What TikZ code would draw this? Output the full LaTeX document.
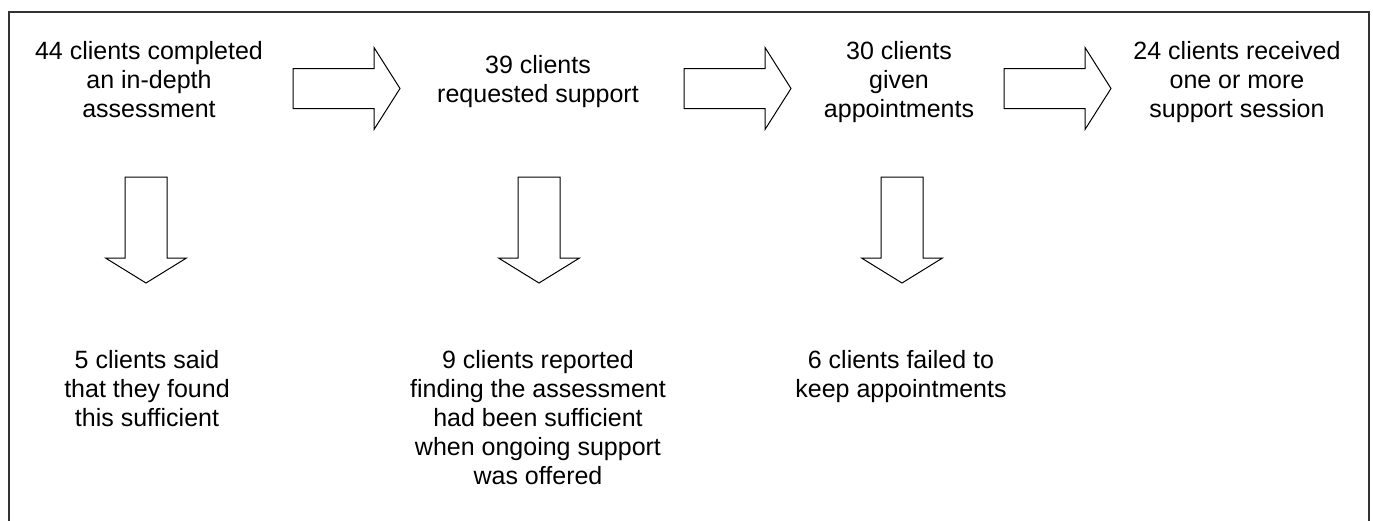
\documentclass[tikz,border=0pt]{standalone}
\usepackage{fontspec}
\setmainfont{Liberation Sans}
\begin{document}
\begin{tikzpicture}[x=1pt,y=-1pt,
  txt/.style={inner sep=0pt, align=center, anchor=north, font=\fontsize{25}{29}\selectfont},
  blockarrow/.style={draw=black, fill=white, line width=1pt, line join=miter},
  rarrow/.pic={\path[blockarrow] (0,-20) -- (81,-20) -- (81,-41) -- (107,0) -- (81,41) -- (81,20) -- (0,20) -- cycle;},
  darrow/.pic={\path[blockarrow] (-21,0) -- (21,0) -- (21,81) -- (40.5,81) -- (0,106) -- (-40.5,81) -- (-21,81) -- cycle;}
]
\useasboundingbox (0,0) rectangle (1373,520);
\begin{scope}
\clip (0,0) rectangle (1373,520);
\draw[line width=1.5pt, draw=black!80] (9,12) rectangle (1369,530);
\end{scope}

% top texts
\node[txt] (n1) at (149,41) {44 clients completed\\an in-depth\\assessment};
\node[txt] (n2) at (538,55.5) {39 clients\\requested support};
\node[txt] (n3) at (899,41) {30 clients\\given\\appointments};
\node[txt] (n4) at (1237,41) {24 clients received\\one or more\\support session};

% bottom texts
\node[txt] (b1) at (147,350) {5 clients said\\that they found\\this sufficient};
\node[txt] (b2) at (538,350) {9 clients reported\\finding the assessment\\had been sufficient\\when ongoing support\\was offered};
\node[txt] (b3) at (901,350) {6 clients failed to\\keep appointments};

% block arrows
\pic at (293,88.5) {rarrow};
\pic at (684,88.5) {rarrow};
\pic at (1004,88.5) {rarrow};
\pic at (146,177) {darrow};
\pic at (539,177) {darrow};
\pic at (902,177) {darrow};
\end{tikzpicture}
\end{document}
